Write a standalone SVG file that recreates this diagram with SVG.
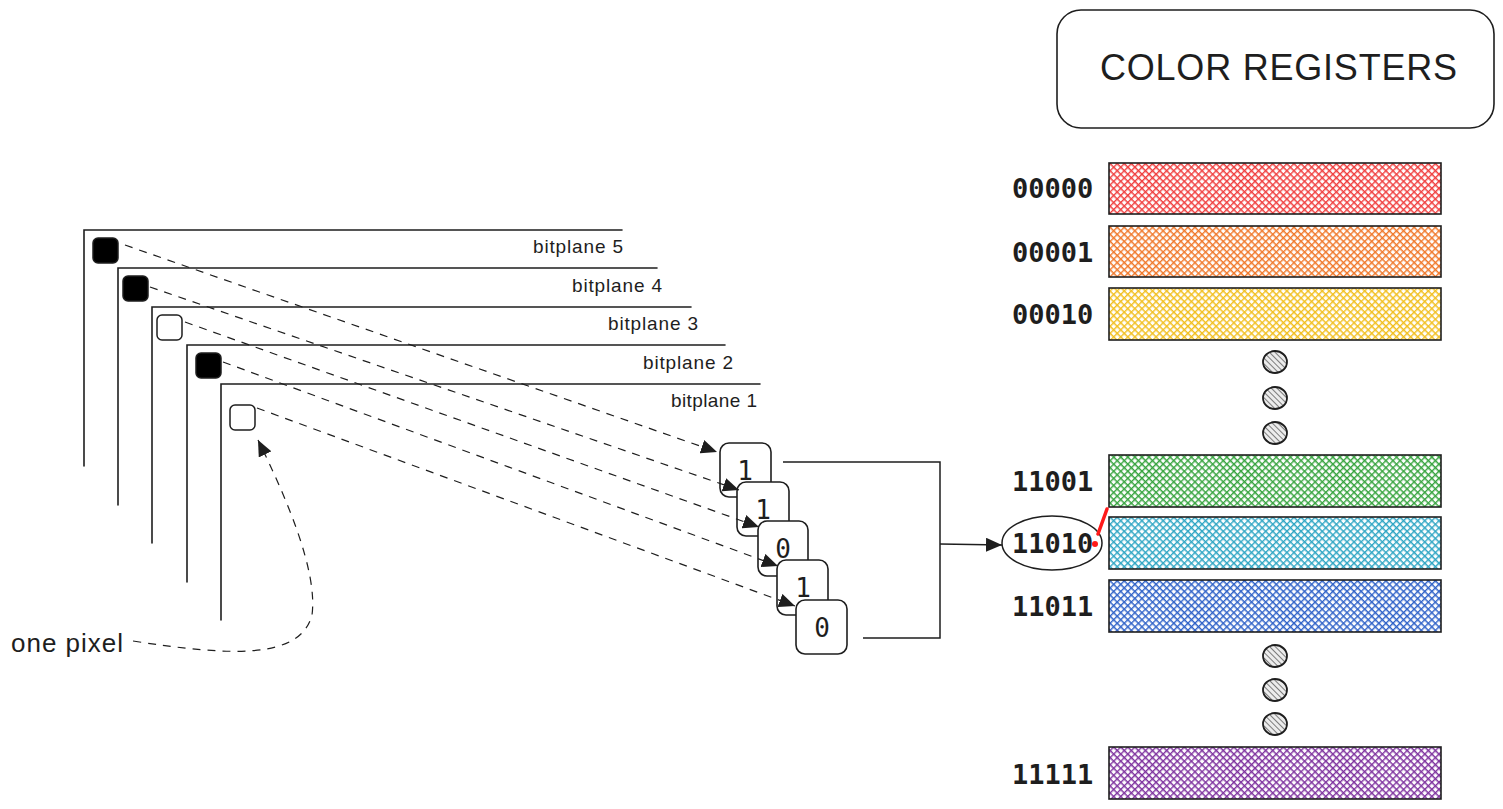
<svg xmlns="http://www.w3.org/2000/svg" width="1503" height="809" viewBox="0 0 1503 809">
<style>
.frame{fill:none;stroke:#1e1e1e;stroke-width:1.6;stroke-linecap:round}
.px-b{fill:#000;stroke:#1e1e1e;stroke-width:1.5}
.px-w{fill:#fff;stroke:#1e1e1e;stroke-width:1.5}
.hand{font-family:"Liberation Sans",Arial,sans-serif;fill:#1e1e1e}
.bp{font-size:19px}
.bit{fill:#fff;stroke:#1e1e1e;stroke-width:1.6}
.bittxt{font-family:"DejaVu Sans Mono","Liberation Mono",monospace;font-size:26px;fill:#1e1e1e;text-anchor:middle}
.lbl{font-family:"DejaVu Sans Mono","Liberation Mono",monospace;font-size:27px;font-weight:bold;fill:#1e1e1e}
.bar{stroke:#1e1e1e;stroke-width:1.6}
.dot{fill:url(#hgray);stroke:#1e1e1e;stroke-width:1.8}
.dash{fill:none;stroke:#1e1e1e;stroke-width:1.2;stroke-dasharray:8 7}
.solid{fill:none;stroke:#1e1e1e;stroke-width:1.5}
</style>
<defs>
<marker id="ah" markerUnits="userSpaceOnUse" markerWidth="17" markerHeight="14" refX="16" refY="7" orient="auto">
<path d="M0,0 L16,7 L0,14 z" fill="#1e1e1e"/>
</marker>
<pattern id="hred" patternUnits="userSpaceOnUse" width="5" height="5" patternTransform="rotate(45)"><rect width="5" height="5" fill="#fff"/><path d="M0,0 V5 M0,0 H5" stroke="#f03e3e" stroke-width="2.8"/></pattern>
<pattern id="horange" patternUnits="userSpaceOnUse" width="5" height="5" patternTransform="rotate(45)"><rect width="5" height="5" fill="#fff"/><path d="M0,0 V5 M0,0 H5" stroke="#f0782a" stroke-width="2.8"/></pattern>
<pattern id="hyellow" patternUnits="userSpaceOnUse" width="5" height="5" patternTransform="rotate(45)"><rect width="5" height="5" fill="#fff"/><path d="M0,0 V5 M0,0 H5" stroke="#f2bf1f" stroke-width="2.8"/></pattern>
<pattern id="hgreen" patternUnits="userSpaceOnUse" width="5" height="5" patternTransform="rotate(45)"><rect width="5" height="5" fill="#fff"/><path d="M0,0 V5 M0,0 H5" stroke="#37a43f" stroke-width="2.8"/></pattern>
<pattern id="hcyan" patternUnits="userSpaceOnUse" width="5" height="5" patternTransform="rotate(45)"><rect width="5" height="5" fill="#fff"/><path d="M0,0 V5 M0,0 H5" stroke="#2fa6c4" stroke-width="2.8"/></pattern>
<pattern id="hblue" patternUnits="userSpaceOnUse" width="5" height="5" patternTransform="rotate(45)"><rect width="5" height="5" fill="#fff"/><path d="M0,0 V5 M0,0 H5" stroke="#2f62c8" stroke-width="2.8"/></pattern>
<pattern id="hpurple" patternUnits="userSpaceOnUse" width="5" height="5" patternTransform="rotate(45)"><rect width="5" height="5" fill="#fff"/><path d="M0,0 V5 M0,0 H5" stroke="#7f339f" stroke-width="2.8"/></pattern>
<pattern id="hgray" patternUnits="userSpaceOnUse" width="4" height="4" patternTransform="rotate(-45)"><rect width="4" height="4" fill="#ececec"/><path d="M0,0 V4" stroke="#6f6f6f" stroke-width="1.8"/></pattern>
</defs>
<rect width="1503" height="809" fill="#fff"/>

<g id="bitplane5">
<path class="frame" d="M622,230 H84 V466"/>
<rect class="px-b" x="93" y="238" width="25" height="25" rx="5"/>
<text class="hand bp" x="533" y="253" textLength="90">bitplane 5</text>
</g>
<g id="bitplane4">
<path class="frame" d="M657,268 H118 V505"/>
<rect class="px-b" x="123" y="276" width="25" height="25" rx="5"/>
<text class="hand bp" x="572" y="292" textLength="90">bitplane 4</text>
</g>
<g id="bitplane3">
<path class="frame" d="M691,307 H152 V543"/>
<rect class="px-w" x="157" y="315" width="25" height="25" rx="5"/>
<text class="hand bp" x="608" y="330" textLength="90">bitplane 3</text>
</g>
<g id="bitplane2">
<path class="frame" d="M725,345 H187 V582"/>
<rect class="px-b" x="196" y="353" width="25" height="25" rx="5"/>
<text class="hand bp" x="643" y="369" textLength="90">bitplane 2</text>
</g>
<g id="bitplane1">
<path class="frame" d="M760,384 H221 V620"/>
<rect class="px-w" x="230" y="405" width="25" height="25" rx="5"/>
<text class="hand bp" x="671" y="407" textLength="86">bitplane 1</text>
</g>

<g id="one-pixel">
<text class="hand" x="11" y="652" font-size="26" textLength="112">one pixel</text>
</g>

<g id="bit1"><rect class="bit" x="720" y="443" width="51" height="54" rx="9"/><text class="bittxt" x="745" y="480">1</text></g>
<g id="bit2"><rect class="bit" x="737" y="482" width="52" height="54" rx="9"/><text class="bittxt" x="763" y="519">1</text></g>
<g id="bit3"><rect class="bit" x="758" y="521" width="50" height="55" rx="9"/><text class="bittxt" x="783" y="558">0</text></g>
<g id="bit4"><rect class="bit" x="777" y="560" width="51" height="55" rx="9"/><text class="bittxt" x="803" y="597">1</text></g>
<g id="bit5"><rect class="bit" x="796" y="600" width="51" height="54" rx="9"/><text class="bittxt" x="822" y="637">0</text></g>

<g id="color-registers-title">
<rect x="1057" y="10" width="437" height="118" rx="24" fill="#fff" stroke="#1e1e1e" stroke-width="1.6"/>
<text class="hand" x="1100" y="80" font-size="36" textLength="357">COLOR REGISTERS</text>
</g>

<g id="reg-00000"><text class="lbl" x="1012" y="198">00000</text><rect class="bar" x="1109" y="163" width="332" height="51" fill="url(#hred)"/></g>
<g id="reg-00001"><text class="lbl" x="1012" y="262">00001</text><rect class="bar" x="1109" y="226" width="332" height="51" fill="url(#horange)"/></g>
<g id="reg-00010"><text class="lbl" x="1012" y="324">00010</text><rect class="bar" x="1109" y="288" width="332" height="52" fill="url(#hyellow)"/></g>
<g id="dots-top">
<ellipse class="dot" cx="1275" cy="362" rx="12" ry="11"/>
<ellipse class="dot" cx="1275" cy="398" rx="12" ry="11"/>
<ellipse class="dot" cx="1275" cy="433" rx="12" ry="11"/>
</g>
<g id="reg-11001"><text class="lbl" x="1012" y="491">11001</text><rect class="bar" x="1109" y="455" width="332" height="52" fill="url(#hgreen)"/></g>
<g id="reg-11010">
<ellipse cx="1052" cy="543" rx="50" ry="27" fill="none" stroke="#1e1e1e" stroke-width="1.5"/>
<text class="lbl" x="1012" y="553">11010</text>
<rect class="bar" x="1109" y="517" width="332" height="52" fill="url(#hcyan)"/>
<path d="M1107,509 L1098,534" stroke="#ff1a1a" stroke-width="3.5" stroke-linecap="round"/>
<circle cx="1095" cy="544" r="3" fill="#ff1a1a"/>
</g>
<g id="reg-11011"><text class="lbl" x="1012" y="616">11011</text><rect class="bar" x="1109" y="580" width="332" height="52" fill="url(#hblue)"/></g>
<g id="dots-bottom">
<ellipse class="dot" cx="1275" cy="656" rx="12" ry="11"/>
<ellipse class="dot" cx="1275" cy="690" rx="12" ry="11"/>
<ellipse class="dot" cx="1275" cy="724" rx="12" ry="11"/>
</g>
<g id="reg-11111"><text class="lbl" x="1012" y="784">11111</text><rect class="bar" x="1109" y="747" width="332" height="52" fill="url(#hpurple)"/></g>

<g id="connectors">
<line class="dash" x1="125" y1="245" x2="717" y2="452" marker-end="url(#ah)"/>
<line class="dash" x1="150" y1="287" x2="739" y2="490" marker-end="url(#ah)"/>
<line class="dash" x1="185" y1="322" x2="759" y2="527" marker-end="url(#ah)"/>
<line class="dash" x1="223" y1="362" x2="778" y2="566" marker-end="url(#ah)"/>
<line class="dash" x1="257" y1="408" x2="795" y2="606" marker-end="url(#ah)"/>
<path class="dash" d="M133,641 C230,656 300,660 312,615 C318,570 285,495 258,440" marker-end="url(#ah)"/>
<path class="solid" d="M783,462 H940 V638 H863"/>
<line class="solid" x1="940" y1="544" x2="1002" y2="545" marker-end="url(#ah)"/>
</g>
</svg>
